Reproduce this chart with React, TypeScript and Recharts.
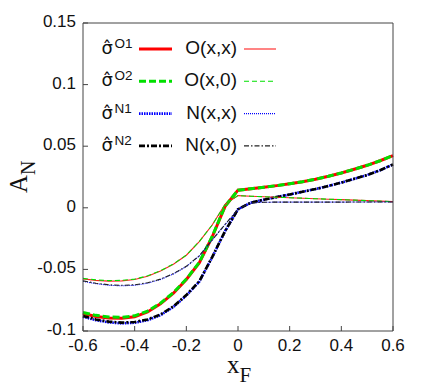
import React from 'react';
import { LineChart, Line, XAxis, YAxis, Legend } from 'recharts';

// x_F sample points
const X_F = [-0.6, -0.55, -0.5, -0.45, -0.4, -0.35, -0.3, -0.25, -0.2, -0.15, -0.1, -0.05, 0,
    0.05, 0.1, 0.15, 0.2, 0.25, 0.3, 0.35, 0.4, 0.45, 0.5, 0.55, 0.6];

// thick curves (sigma hat)
const SIGMA_O1 = [-0.0858, -0.0882, -0.0895, -0.0897, -0.0885, -0.0845, -0.0780, -0.0693, -0.0582, -0.0447, -0.0237, 0.0012, 0.0143,
    0.0155, 0.0167, 0.0180, 0.0195, 0.0212, 0.0232, 0.0256, 0.0283, 0.0313, 0.0345, 0.0382, 0.0424];
const SIGMA_O2 = [-0.0850, -0.0873, -0.0886, -0.0889, -0.0877, -0.0838, -0.0774, -0.0688, -0.0579, -0.0443, -0.0233, 0.0014, 0.0143,
    0.0155, 0.0167, 0.0180, 0.0195, 0.0212, 0.0232, 0.0256, 0.0283, 0.0313, 0.0345, 0.0382, 0.0424];
const SIGMA_N1 = [-0.0885, -0.0912, -0.0930, -0.0938, -0.0933, -0.0912, -0.0872, -0.0805, -0.0712, -0.0600, -0.0402, -0.0190, -0.0012,
    0.0042, 0.0066, 0.0087, 0.0108, 0.0130, 0.0152, 0.0177, 0.0205, 0.0235, 0.0266, 0.0305, 0.0352];
const SIGMA_N2 = [-0.0879, -0.0906, -0.0924, -0.0932, -0.0927, -0.0906, -0.0866, -0.0800, -0.0708, -0.0597, -0.0400, -0.0189, -0.0012,
    0.0042, 0.0066, 0.0087, 0.0108, 0.0130, 0.0152, 0.0177, 0.0205, 0.0235, 0.0266, 0.0305, 0.0352];

// thin curves (models)
const O_XX = [-0.0577, -0.0589, -0.0595, -0.0593, -0.0582, -0.0555, -0.0513, -0.0458, -0.0385, -0.0275, -0.0140, 0.0028, 0.0099,
    0.0094, 0.0090, 0.0086, 0.0082, 0.0078, 0.0074, 0.0070, 0.0066, 0.0062, 0.0058, 0.0054, 0.0050];
const O_X0 = [-0.0573, -0.0585, -0.0591, -0.0589, -0.0579, -0.0552, -0.0511, -0.0456, -0.0384, -0.0274, -0.0140, 0.0028, 0.0099,
    0.0094, 0.0090, 0.0086, 0.0082, 0.0078, 0.0074, 0.0070, 0.0066, 0.0062, 0.0058, 0.0054, 0.0050];
const N_XX = [-0.0597, -0.0616, -0.0629, -0.0633, -0.0629, -0.0612, -0.0582, -0.0537, -0.0477, -0.0392, -0.0262, -0.0136, -0.0012,
    0.0040, 0.0045, 0.0046, 0.0046, 0.0046, 0.0046, 0.0046, 0.0046, 0.0047, 0.0047, 0.0047, 0.0047];
const N_X0 = [-0.0593, -0.0612, -0.0625, -0.0629, -0.0625, -0.0608, -0.0579, -0.0534, -0.0475, -0.0390, -0.0261, -0.0135, -0.0012,
    0.0040, 0.0045, 0.0046, 0.0046, 0.0046, 0.0046, 0.0046, 0.0046, 0.0047, 0.0047, 0.0047, 0.0047];

const X_TICKS = [-0.6, -0.4, -0.2, 0, 0.2, 0.4, 0.6];
const Y_TICKS = [-0.1, -0.05, 0, 0.05, 0.1, 0.15];

const THICK = [
    { key: 'o1', values: SIGMA_O1, sup: 'O1', color: '#ff0000', width: 3, dash: undefined },
    { key: 'o2', values: SIGMA_O2, sup: 'O2', color: '#00e000', width: 3, dash: '7 3' },
    { key: 'n1', values: SIGMA_N1, sup: 'N1', color: '#0000ff', width: 2.6, dash: '1.5 1' },
    { key: 'n2', values: SIGMA_N2, sup: 'N2', color: '#000000', width: 2.6, dash: '6 2 2 2' },
];

const THIN = [
    { key: 'oxx', values: O_XX, name: 'O(x,x)', color: '#ff2020', width: 1.1, dash: undefined },
    { key: 'ox0', values: O_X0, name: 'O(x,0)', color: '#00e000', width: 1.1, dash: '5 3' },
    { key: 'nxx', values: N_XX, name: 'N(x,x)', color: '#0000ff', width: 1.1, dash: '1 1' },
    { key: 'nx0', values: N_X0, name: 'N(x,0)', color: '#222222', width: 1.1, dash: '5 2 1.5 2' },
];

const data = X_F.map((x, i) => {
    const row: Record<string, number> = { x };
    [...THICK, ...THIN].forEach((s) => { row[s.key] = s.values[i]; });
    return row;
});

const SANS = '"Liberation Sans", Arial, Helvetica, sans-serif';
const SERIF = '"Liberation Serif", "Times New Roman", serif';
const FRAME = '#444';

const renderLegend = () => (
    <svg width={431} height={389} style={{ display: 'block', overflow: 'visible' }}>
        {THICK.map((s, i) => {
            const y = 49 + i * 32.3;
            return (
                <g key={s.key}>
                    <text x={101.5} y={y + 5} fontSize={19} fontFamily={SANS} fill="#111">
                        <tspan fontFamily='"DejaVu Sans", sans-serif' fontSize={18}>σ̂</tspan>
                        <tspan fontSize={13.5} dx={1.5} dy={-6}>{s.sup}</tspan>
                    </text>
                    <line x1={139} x2={172} y1={y} y2={y} stroke={s.color} strokeWidth={s.width} strokeDasharray={s.dash} />
                </g>
            );
        })}
        {THIN.map((s, i) => {
            const y = 49 + i * 32.3;
            return (
                <g key={s.key}>
                    <text x={237} y={y + 5} fontSize={19} fontFamily={SANS} fill="#111" textAnchor="end">{s.name}</text>
                    <line x1={244} x2={276} y1={y} y2={y} stroke={s.color} strokeWidth={s.width} strokeDasharray={s.dash} />
                </g>
            );
        })}
    </svg>
);

const XTitle = ({ viewBox }: any) => (
    <text x={viewBox.x + viewBox.width / 2 - 11} y={viewBox.y + 42} fontFamily={SERIF} fontSize={25} fill="#111">
        x<tspan fontSize={21} dy={9}>F</tspan>
    </text>
);

const YTitle = ({ viewBox }: any) => (
    <text
        transform={`translate(27, ${viewBox.y + viewBox.height / 2 + 16}) rotate(-90)`}
        x={0}
        y={0}
        fontFamily={SERIF}
        fontSize={25}
        fill="#111"
    >
        A<tspan fontSize={20} dy={8}>N</tspan>
    </text>
);

export default function App() {
    const tickStyle = { fontSize: 17, fill: '#111', fontFamily: SANS };
    return (
        <div style={{ position: 'absolute', left: 0, top: 0, background: '#fff' }}>
            <LineChart width={431} height={389} data={data} margin={{ top: 22, right: 37, bottom: 0, left: 0 }}>
                <XAxis
                    dataKey="x"
                    type="number"
                    domain={[-0.6, 0.6]}
                    ticks={X_TICKS}
                    interval={0}
                    height={58}
                    tick={tickStyle}
                    tickSize={-5}
                    tickMargin={13}
                    axisLine={{ stroke: FRAME }}
                    tickLine={{ stroke: FRAME }}
                    label={{ content: XTitle }}
                />
                <XAxis
                    xAxisId="top"
                    orientation="top"
                    dataKey="x"
                    type="number"
                    domain={[-0.6, 0.6]}
                    ticks={X_TICKS}
                    interval={0}
                    height={1}
                    tick={false}
                    tickSize={-5}
                    axisLine={{ stroke: FRAME }}
                    tickLine={{ stroke: FRAME }}
                />
                <YAxis
                    type="number"
                    domain={[-0.1, 0.15]}
                    ticks={Y_TICKS}
                    interval={0}
                    width={83}
                    tick={{ ...tickStyle, dy: -2 }}
                    tickSize={-5}
                    tickMargin={12}
                    axisLine={{ stroke: FRAME }}
                    tickLine={{ stroke: FRAME }}
                    label={{ content: YTitle }}
                />
                <YAxis
                    yAxisId="right"
                    orientation="right"
                    type="number"
                    domain={[-0.1, 0.15]}
                    ticks={Y_TICKS}
                    interval={0}
                    width={1}
                    tick={false}
                    tickSize={-5}
                    axisLine={{ stroke: FRAME }}
                    tickLine={{ stroke: FRAME }}
                />
                <Legend
                    layout="vertical"
                    align="center"
                    verticalAlign="middle"
                    content={renderLegend}
                    wrapperStyle={{ left: 0, top: 0, width: 431, height: 389, pointerEvents: 'none' }}
                />
                {THICK.map((s) => (
                    <Line key={s.key} dataKey={s.key} type="linear" stroke={s.color} strokeWidth={s.width}
                        strokeDasharray={s.dash} dot={false} activeDot={false} isAnimationActive={false} />
                ))}
                {THIN.map((s) => (
                    <Line key={s.key} dataKey={s.key} type="linear" stroke={s.color} strokeWidth={s.width}
                        strokeDasharray={s.dash} dot={false} activeDot={false} isAnimationActive={false} />
                ))}
            </LineChart>
        </div>
    );
}
